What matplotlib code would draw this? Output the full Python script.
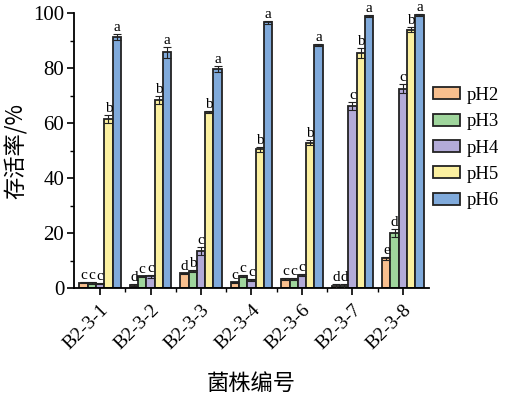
import numpy as np
import matplotlib.pyplot as plt
from matplotlib.ticker import MultipleLocator

strains = ['B2-3-1', 'B2-3-2', 'B2-3-3', 'B2-3-4', 'B2-3-6', 'B2-3-7', 'B2-3-8']
series = ['pH2', 'pH3', 'pH4', 'pH5', 'pH6']

ph2 = [2.1, 1.2, 5.5, 2.2, 3.5, 1.0, 10.9]
ph3 = [2.0, 4.4, 6.3, 4.4, 3.5, 1.0, 20.2]
ph4 = [1.8, 4.4, 13.5, 3.0, 5.0, 66.3, 72.6]
ph5 = [61.6, 68.5, 64.0, 50.5, 53.0, 85.5, 94.0]
ph6 = [91.3, 85.8, 79.8, 96.7, 88.5, 99.0, 99.4]

ph2_err = [0.2, 0.3, 0.3, 0.3, 0.3, 0.8, 0.4]
ph3_err = [0.2, 0.3, 0.4, 0.4, 0.3, 0.8, 1.5]
ph4_err = [0.3, 0.5, 1.5, 0.4, 0.4, 1.5, 1.6]
ph5_err = [1.5, 1.5, 0.4, 0.8, 0.9, 1.8, 1.0]
ph6_err = [1.0, 2.0, 1.0, 0.5, 0.3, 0.3, 0.4]

ph2_sig = ['c', 'd', 'd', 'c', 'c', 'd', 'e']
ph3_sig = ['c', 'c', 'b', 'c', 'c', 'd', 'd']
ph4_sig = ['c', 'c', 'c', 'c', 'c', 'c', 'c']
ph5_sig = ['b', 'b', 'b', 'b', 'b', 'b', 'b']
ph6_sig = ['a', 'a', 'a', 'a', 'a', 'a', 'a']

colors = ['#f8bf8e', '#9fd59c', '#b3abd8', '#fbf0a0', '#80aadb']

values = [ph2, ph3, ph4, ph5, ph6]
errors = [ph2_err, ph3_err, ph4_err, ph5_err, ph6_err]
sigs = [ph2_sig, ph3_sig, ph4_sig, ph5_sig, ph6_sig]

serif = ['Liberation Serif', 'DejaVu Serif']
cjk = ['Noto Sans CJK SC', 'DejaVu Sans']

fig = plt.figure(figsize=(5.06, 3.99), dpi=100)
ax = fig.add_axes([0.146, 0.277, 0.702, 0.690])

x = np.arange(len(strains))
w = 0.164
for i, (vals, errs, sg) in enumerate(zip(values, errors, sigs)):
    pos = x + (i - 2) * w
    ax.bar(pos, vals, w, color=colors[i], edgecolor='#222222', linewidth=1.3,
           label=series[i], zorder=2)
    ax.errorbar(pos, vals, yerr=errs, fmt='none', ecolor='#222222',
                elinewidth=0.8, capsize=3, capthick=0.8, zorder=3)
    for p, v, e, s in zip(pos, vals, errs, sg):
        ax.text(p, v + e, s, ha='center', va='bottom', fontsize=11,
                family=serif)

ax.set_xlim(-0.52, len(strains) - 0.48)
ax.set_ylim(0, 100)
ax.yaxis.set_major_locator(MultipleLocator(20))
ax.yaxis.set_minor_locator(MultipleLocator(10))
ax.set_xticks(x)
ax.set_xticks(x[:-1] + 0.5, minor=True)
ax.set_xticklabels(strains, rotation=45, ha='right', rotation_mode='anchor',
                   fontsize=14, family=serif)
for lab in ax.get_yticklabels():
    lab.set_family(serif)
    lab.set_fontsize(15)
ax.tick_params(axis='both', which='major', direction='out', length=5, width=1.2)
ax.tick_params(axis='both', which='minor', direction='out', length=3, width=1.0)
ax.tick_params(axis='x', which='major', pad=4)
ax.tick_params(axis='y', which='major', pad=2)

ax.spines['top'].set_visible(False)
ax.spines['right'].set_visible(False)
ax.spines['left'].set_linewidth(1.3)
ax.spines['bottom'].set_linewidth(1.3)

ax.set_ylabel('存活率/%', fontsize=16, family=cjk)
ax.yaxis.set_label_coords(-0.13, 0.5)
ax.set_xlabel('菌株编号', fontsize=16, family=cjk)
ax.xaxis.set_label_coords(0.5, -0.305)

leg = ax.legend(loc='center left', bbox_to_anchor=(1.0, 0.51), frameon=False,
                prop={'family': serif, 'size': 13.5}, handlelength=1.45,
                handleheight=0.62, labelspacing=0.5, handletextpad=0.35,
                borderpad=0.1, borderaxespad=0.1)

fig.savefig('out.png', dpi=100)
